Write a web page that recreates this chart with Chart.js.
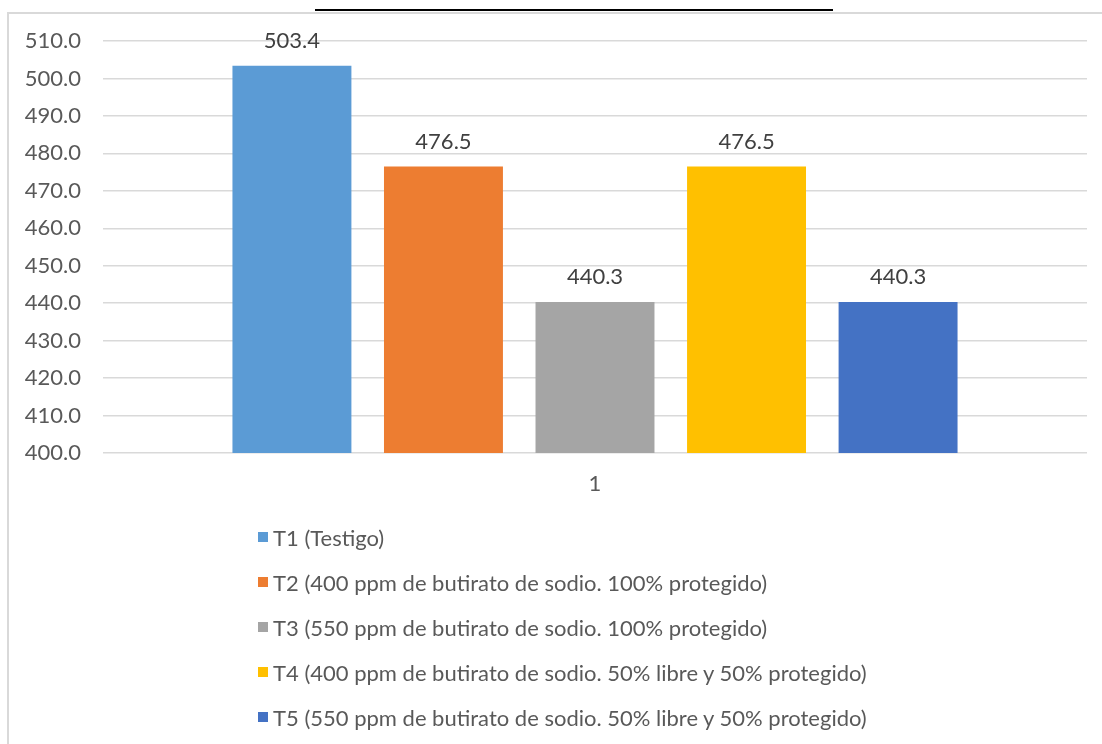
<!DOCTYPE html>
<html>
<head>
<meta charset="utf-8">
<script src="https://cdn.jsdelivr.net/npm/chart.js@4/dist/chart.umd.min.js"></script>
<style>
  html, body { margin: 0; padding: 0; background: #fff; }
  body { width: 1102px; height: 744px; position: relative; overflow: hidden; font-family: Lato, "Open Sans", sans-serif; }
  #rule { position: absolute; left: 315px; top: 9px; width: 518px; height: 2px; background: #000; }
  #frame { position: absolute; left: 7px; top: 12px; width: 1100px; height: 740px; border-left: 2px solid #d9d9d9; border-top: 2px solid #d9d9d9; box-sizing: border-box; }
  #wrap { position: absolute; left: 0; top: 0; width: 1102px; height: 744px; }
  #legend { position: absolute; left: 258px; top: 522px; margin: 0; padding: 0; list-style: none; }
  #legend li { font-size: 22px; color: #595959; display: flex; align-items: center; height: 30px; margin-bottom: 15px; white-space: nowrap; }
  #legend .sw { width: 10px; height: 10px; margin-right: 5px; display: inline-block; }
</style>
</head>
<body>
<div id="rule"></div>
<div id="frame"></div>
<div id="wrap"><canvas id="c" width="1102" height="744"></canvas></div>
<ul id="legend"></ul>
<script>
// Categories and series
const categories = ['1'];
const seriesNames = [
  'T1 (Testigo)',
  'T2 (400 ppm de butirato de sodio. 100% protegido)',
  'T3 (550 ppm de butirato de sodio. 100% protegido)',
  'T4 (400 ppm de butirato de sodio. 50% libre y 50% protegido)',
  'T5 (550 ppm de butirato de sodio. 50% libre y 50% protegido)'
];
const seriesValues = [503.4, 476.5, 440.3, 476.5, 440.3];
const seriesColors = ['#5B9BD5', '#ED7D31', '#A5A5A5', '#FFC000', '#4472C4'];
const yMin = 400, yMax = 510, yStep = 10;

const FONT = 'Lato, "Open Sans", sans-serif';
const FONT_SIZE = 22;

// Draws the value of each bar just above it
const valueLabels = {
  id: 'valueLabels',
  afterDatasetsDraw(chart) {
    const ctx = chart.ctx;
    ctx.save();
    ctx.font = FONT_SIZE + 'px ' + FONT;
    ctx.fillStyle = '#404040';
    ctx.textAlign = 'center';
    ctx.textBaseline = 'middle';
    chart.data.datasets.forEach((ds, i) => {
      const meta = chart.getDatasetMeta(i);
      meta.data.forEach((bar, j) => {
        ctx.fillText(ds.data[j].toFixed(1), bar.x, bar.y - 25);
      });
    });
    ctx.restore();
  }
};

const chart = new Chart(document.getElementById('c'), {
  type: 'bar',
  data: {
    labels: categories,
    datasets: seriesNames.map((name, i) => ({
      label: name,
      data: [seriesValues[i]],
      backgroundColor: seriesColors[i],
      borderWidth: 0,
      categoryPercentage: 0.77,
      barPercentage: 0.785
    }))
  },
  options: {
    responsive: false,
    animation: false,
    layout: { padding: { left: 0, right: 15, top: 41, bottom: 250 } },
    plugins: { legend: { display: false }, tooltip: { enabled: false } },
    scales: {
      x: {
        grid: { display: false },
        border: { display: false },
        ticks: { color: '#595959', font: { size: FONT_SIZE, family: FONT }, padding: 10 },
        afterFit(scale) { scale.height = 41; }
      },
      y: {
        min: yMin, max: yMax,
        ticks: {
          stepSize: yStep, color: '#595959', padding: 22,
          font: { size: FONT_SIZE, family: FONT },
          callback: v => Number(v).toFixed(1)
        },
        grid: { color: '#d9d9d9', lineWidth: 1.5, drawTicks: false },
        border: { display: false },
        afterFit(scale) { scale.width = 103; }
      }
    }
  },
  plugins: [valueLabels]
});

// Legend list built from the chart's datasets
const legend = document.getElementById('legend');
chart.data.datasets.forEach(ds => {
  const li = document.createElement('li');
  const sw = document.createElement('span');
  sw.className = 'sw';
  sw.style.background = ds.backgroundColor;
  li.appendChild(sw);
  li.appendChild(document.createTextNode(ds.label));
  legend.appendChild(li);
});
</script>
</body>
</html>
